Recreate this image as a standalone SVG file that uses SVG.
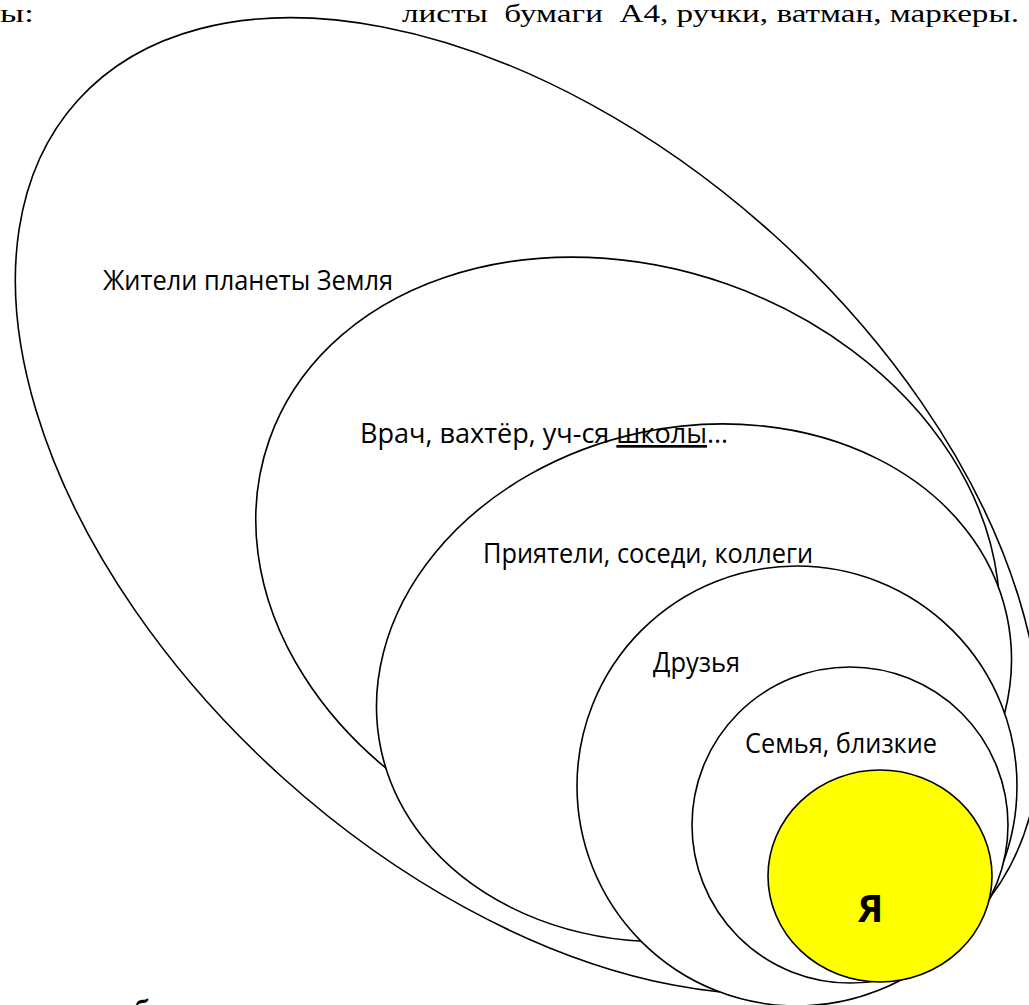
<svg xmlns="http://www.w3.org/2000/svg" width="1029" height="1005" viewBox="0 0 1029 1005">
<style>
.sh{stroke:#000;stroke-width:1.6;fill:#fff}
.lb{font-family:"Open Sans","Noto Sans",sans-serif;font-size:27px;fill:#000}
.tt{font-family:"Liberation Serif",serif;font-size:26px;fill:#000}
</style>
<rect width="1029" height="1005" fill="#fff"/>
<text class="tt" x="0" y="22" textLength="34" lengthAdjust="spacingAndGlyphs">ы:</text>
<text class="tt" x="402" y="22" textLength="617" lengthAdjust="spacingAndGlyphs" xml:space="preserve">листы  бумаги  А4, ручки, ватман, маркеры.</text>
<g id="n1"><ellipse class="sh" cx="528" cy="506" rx="606" ry="366" transform="rotate(42 528 506)"/></g>
<g id="n2"><ellipse class="sh" cx="627.7" cy="566.1" rx="380" ry="299" transform="rotate(19.4 627.7 566.1)"/></g>
<g id="n3"><ellipse class="sh" cx="694" cy="683" rx="320" ry="256" transform="rotate(-12 694 683)"/></g>
<g id="n4"><circle class="sh" cx="797" cy="786" r="220"/></g>
<g id="n5"><circle class="sh" cx="850" cy="825" r="158"/></g>
<g id="n6"><ellipse cx="880" cy="876" rx="112" ry="106" fill="#ffff00" stroke="#000" stroke-width="1.6"/></g>
<g id="labels">
<text class="lb" x="103" y="290" textLength="290" lengthAdjust="spacingAndGlyphs">Жители планеты Земля</text>
<text class="lb" x="360" y="443" textLength="368" lengthAdjust="spacingAndGlyphs">Врач, вахтёр, уч-ся <tspan text-decoration="underline">школы</tspan>…</text>
<text class="lb" x="483" y="563" textLength="330" lengthAdjust="spacingAndGlyphs">Приятели, соседи, коллеги</text>
<text class="lb" x="653" y="672" textLength="87" lengthAdjust="spacingAndGlyphs">Друзья</text>
<text class="lb" x="745" y="753" textLength="192" lengthAdjust="spacingAndGlyphs">Семья, близкие</text>
<text class="lb" x="858" y="922" style="font-weight:bold;font-size:38px">Я</text>
</g>
<g id="connectors"></g>
<text x="-1" y="1017" style="font-family:'Liberation Serif',serif;font-weight:bold;font-size:26px" textLength="295" lengthAdjust="spacingAndGlyphs">осы для обсуждения:</text>
</svg>
